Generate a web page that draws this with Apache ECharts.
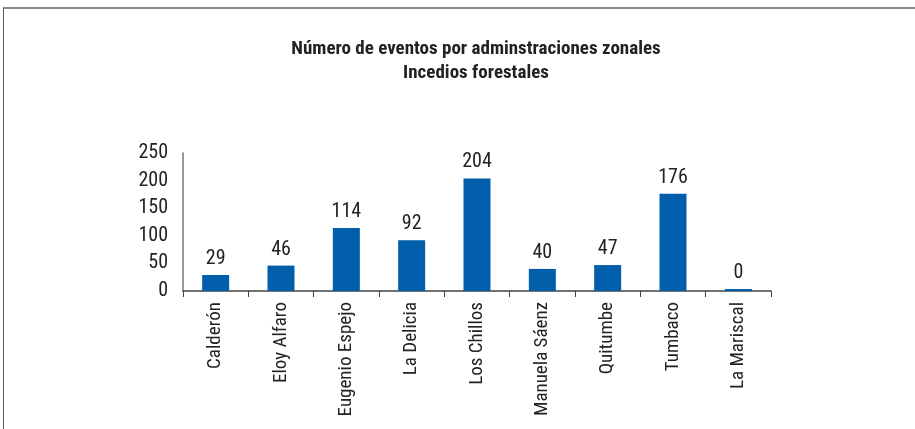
<!DOCTYPE html>
<html>
<head>
<meta charset="utf-8">
<script src="https://cdn.jsdelivr.net/npm/echarts@6/dist/echarts.min.js"></script>
<style>
  html, body { margin: 0; padding: 0; background: #fff; }
  #frame { position: absolute; left: 3px; top: 7px; right: 0; bottom: 0;
           border-top: 2px solid #8a8a8a; border-left: 1px solid #555; }
  #chart { position: absolute; left: 0; top: 0; width: 915px; height: 429px; }
</style>
</head>
<body>
<div id="frame"></div>
<div id="chart"></div>
<script>
// Administraciones zonales y número de incendios forestales registrados
const zonas = ['Calderón', 'Eloy Alfaro', 'Eugenio Espejo', 'La Delicia', 'Los Chillos',
               'Manuela Sáenz', 'Quitumbe', 'Tumbaco', 'La Mariscal'];
const eventos = [29, 46, 114, 92, 204, 40, 47, 176, 0];
const yTicks = [0, 50, 100, 150, 200, 250];

const font = '"Roboto Condensed", Roboto, sans-serif';

const chart = echarts.init(document.getElementById('chart'), null, { renderer: 'canvas' });
chart.setOption({
  animation: false,
  title: {
    text: 'Número de eventos por adminstraciones zonales\nIncedios forestales',
    left: 471,
    top: 32,
    textAlign: 'center',
    textStyle: {
      fontFamily: font,
      fontWeight: 'bold',
      fontSize: 19,
      lineHeight: 24,
      color: '#222'
    }
  },
  grid: { left: 183, right: 144, top: 153, bottom: 138 },
  xAxis: {
    type: 'category',
    data: zonas,
    axisLine: { lineStyle: { color: '#444', width: 1.5 } },
    axisTick: { show: true, alignWithLabel: false, length: 6, lineStyle: { color: '#444' } },
    axisLabel: {
      rotate: 90,
      interval: 0,
      margin: 11,
      fontFamily: font,
      fontSize: 19,
      color: '#222'
    }
  },
  yAxis: {
    type: 'value',
    min: yTicks[0],
    max: yTicks[yTicks.length - 1],
    interval: 50,
    splitLine: { show: false },
    axisLine: { show: true, lineStyle: { color: '#777', width: 1.5 } },
    axisTick: { show: false },
    axisLabel: {
      margin: 15,
      fontFamily: font,
      fontSize: 20,
      color: '#222'
    }
  },
  series: [{
    type: 'bar',
    data: eventos,
    barWidth: 27,
    barMinHeight: 2,
    itemStyle: { color: '#005eab' },
    label: {
      show: true,
      position: 'top',
      distance: 6,
      fontFamily: font,
      fontSize: 20,
      color: '#222'
    }
  }]
});
</script>
</body>
</html>
